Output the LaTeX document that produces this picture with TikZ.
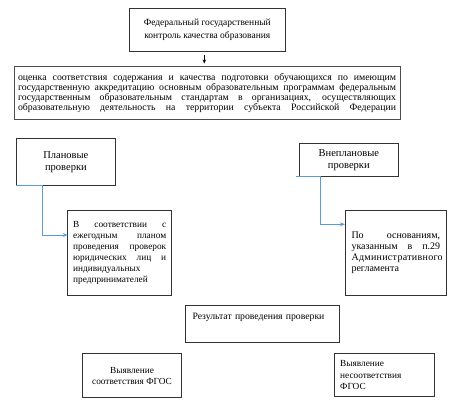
\documentclass[tikz,border=0pt]{standalone}
\usepackage{fontspec}
\setmainfont{Liberation Serif}
\usetikzlibrary{arrows.meta}
\definecolor{conblue}{HTML}{5B9BD5}
\definecolor{boxline}{HTML}{333333}
\tikzset{
  box/.style={draw=boxline, line width=0.8pt, inner sep=0pt, outer sep=0pt},
  bluecon/.style={draw=conblue, line width=0.8pt, -{Stealth[length=5pt,width=4pt]}},
  blackcon/.style={draw=black, line width=0.7pt, -{Stealth[length=4pt,width=3.5pt]}}
}
\begin{document}
\begin{tikzpicture}[x=1pt,y=-1pt]
\useasboundingbox (0,0) rectangle (461,408);
\fill[white] (0,0) rectangle (461,408);

\node[box, minimum width=155.5pt, minimum height=42.5pt, align=center,
  font=\fontsize{9.5}{12.5}\selectfont] (top) at (207.3,29.8)
  {Федеральный государственный\\контроль качества образования};

\node[box, line width=1pt, draw=black!70, minimum width=386pt, minimum height=52.5pt] (big) at (207,93)
  {\parbox{378pt}{\fontsize{9.8}{10}\selectfont\parfillskip=0pt\hbadness=10000\relax
  оценка соответствия содержания и качества подготовки обучающихся по имеющим\linebreak
  государственную аккредитацию основным образовательным программам федеральным\linebreak
  государственным образовательным стандартам в организациях, осуществляющих\linebreak
  образовательную деятельность на территории субъекта Российской Федерации}};

\node[box, minimum width=99.7pt, minimum height=47.4pt, align=center,
  font=\fontsize{10.5}{12}\selectfont] (plan) at (65.9,162)
  {Плановые\\проверки};

\node[box, minimum width=99pt, minimum height=32.7pt, align=center,
  font=\fontsize{10.5}{12}\selectfont] (vne) at (348.8,159.7)
  {Внеплановые\\проверки};

\node[box, minimum width=104pt, minimum height=85pt] (t1) at (119.7,252.5)
  {\parbox{93pt}{\fontsize{9.3}{11}\selectfont\hbadness=10000
  В соответствии с\linebreak ежегодным планом\linebreak проведения проверок\linebreak
  юридических лиц и\linebreak индивидуальных\hfill\linebreak предпринимателей}};

\node[box, minimum width=101.7pt, minimum height=85pt] (t2) at (395.8,252.5)
  {\parbox{88.6pt}{\fontsize{10}{11}\selectfont\hbadness=10000
  По основаниям,\linebreak указанным в п.29\linebreak {\addfontfeatures{LetterSpace=3}Административного}\linebreak регламента}};

\node[box, minimum width=153.6pt, minimum height=36.6pt, text width=140pt, align=left,
  font=\fontsize{9.7}{11}\selectfont] (res) at (262.5,324)
  {Результат проведения проверки\\[5pt]\mbox{}};

\node[box, minimum width=99.4pt, minimum height=44pt, align=center,
  font=\fontsize{9.3}{11}\selectfont] (b1) at (132,375.7)
  {Выявление\\соответствия ФГОС};

\node[box, minimum width=99.7pt, minimum height=43pt] (b2) at (384.2,375.2)
  {\parbox{88pt}{\fontsize{9.3}{11.5}\selectfont\raggedright Выявление\\несоответствия\\ФГОС}};

\coordinate (a0) at (204.3,55);
\coordinate (a1) at (204.3,63.5);
\draw[blackcon] (a0) -- (a1);

\coordinate (k1) at (42.7,235);
\draw[bluecon] (plan.south west) -| (k1) -- (k1 -| t1.west);

\coordinate (s2) at (296,176);
\coordinate (k2) at (320.7,224.3);
\draw[bluecon] (s2) -| (k2) -- (k2 -| t2.west);
\end{tikzpicture}
\end{document}
